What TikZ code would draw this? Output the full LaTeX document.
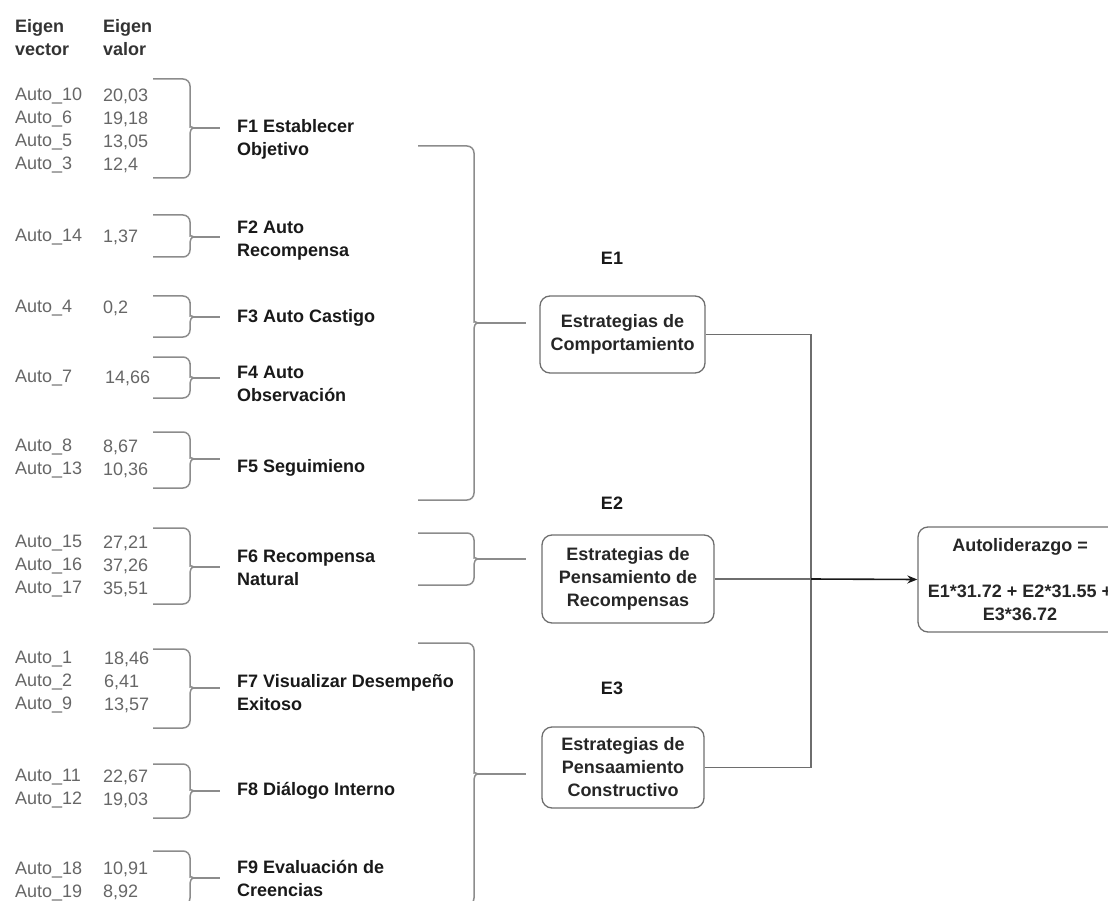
\documentclass[tikz,border=0pt]{standalone}
\usepackage{fontspec}
\setmainfont{Liberation Sans}
\usepackage{xcolor}
\usepackage{tikz}
\usetikzlibrary{arrows.meta}

\definecolor{bracegray}{HTML}{8C8C8C}
\definecolor{linegray}{HTML}{6E6E6E}
\definecolor{datagray}{HTML}{666666}

% curly bracket: tip name, left x, spine x, tip end x, top y, tip y, bottom y
\newcommand{\curlyb}[7]{%
  \draw[brace] (#2,#5) [rounded corners=7pt] -- (#3,#5) -- (#3,#6-8) [sharp corners]
    .. controls (#3,#6-3) and (#3+1,#6) .. (#3+4,#6)
    .. controls (#3+1,#6) and (#3,#6+3) .. (#3,#6+8)
    [rounded corners=7pt] -- (#3,#7) -- (#2,#7);
  \coordinate (#1) at (#4,#6);
  \draw[brace] (#3+4,#6) -- (#1);
}

\begin{document}
\begin{tikzpicture}[
  x=1pt, y=-1pt,
  txt/.style={font=\fontsize{18}{23}\selectfont, inner sep=0pt, align=left, anchor=west},
  hdr/.style={txt, font=\fontsize{18}{23}\selectfont\bfseries, text=black!80},
  dat/.style={txt, text=datagray},
  flab/.style={txt, font=\fontsize{18}{23}\selectfont\bfseries, text=black!90},
  elab/.style={font=\fontsize{18}{23}\selectfont\bfseries, inner sep=0pt, text=black!90},
  sbox/.style={draw=linegray, line width=1.3pt, rounded corners=10pt, align=center,
    font=\fontsize{18}{23}\selectfont\bfseries, text=black!85, inner sep=2pt},
  brace/.style={draw=bracegray, line width=1.5pt},
  link/.style={draw=linegray, line width=1.5pt},
  arrow/.style={-{Stealth[length=10pt,width=8pt]}, line width=1.6pt, black!90}
]
\useasboundingbox (0,0) rectangle (1108,901);
\clip (0,0) rectangle (1108,901);

\node[hdr] (hvec) at (15,38) {Eigen\\vector};
\node[hdr] (hval) at (103,38) {Eigen\\valor};

\node[dat] (v1) at (15,131) {Auto\_10\\Auto\_6\\Auto\_5\\Auto\_3};
\node[dat] (w1) at (103,131) {20,03\\19,18\\13,05\\12,4};
\node[dat] (v2) at (15,237) {Auto\_14};
\node[dat] (w2) at (103,237) {1,37};
\node[dat] (v3) at (15,308) {Auto\_4};
\node[dat] (w3) at (103,308) {0,2};
\node[dat] (v4) at (15,378) {Auto\_7};
\node[dat] (w4) at (105,378) {14,66};
\node[dat] (v5) at (15,459) {Auto\_8\\Auto\_13};
\node[dat] (w5) at (103,459) {8,67\\10,36};
\node[dat] (v6) at (15,566) {Auto\_15\\Auto\_16\\Auto\_17};
\node[dat] (w6) at (103,566) {27,21\\37,26\\35,51};
\node[dat] (v7) at (15,682) {Auto\_1\\Auto\_2\\Auto\_9};
\node[dat] (w7) at (104,682) {18,46\\6,41\\13,57};
\node[dat] (v8) at (15,789) {Auto\_11\\Auto\_12};
\node[dat] (w8) at (103,789) {22,67\\19,03};
\node[dat] (v9) at (15,881) {Auto\_18\\Auto\_19};
\node[dat] (w9) at (103,881) {10,91\\8,92};

\node[flab] (f1) at (237,139) {F1 Establecer\\Objetivo};
\node[flab] (f2) at (237,241) {F2 Auto\\Recompensa};
\node[flab] (f3) at (237,318) {F3 Auto Castigo};
\node[flab] (f4) at (237,384) {F4 Auto\\Observación};
\node[flab] (f5) at (237,468) {F5 Seguimieno};
\node[flab] (f6) at (237,568) {F6 Recompensa\\Natural};
\node[flab] (f7) at (237,693) {F7 Visualizar Desempeño\\Exitoso};
\node[flab] (f8) at (237,791) {F8 Diálogo Interno};
\node[flab] (f9) at (237,878) {F9 Evaluación de\\Creencias};

\curlyb{s1}{153}{190}{220}{79}{128}{178}
\curlyb{s2}{153}{190}{220}{215}{237}{257}
\curlyb{s3}{153}{190}{220}{296}{317}{337}
\curlyb{s4}{153}{190}{220}{357}{378}{398}
\curlyb{s5}{153}{190}{220}{432}{459}{488}
\curlyb{s6}{153}{190}{220}{528}{567}{604}
\curlyb{s7}{153}{190}{220}{649}{688}{728}
\curlyb{s8}{153}{190}{220}{764}{791}{818}
\curlyb{s9}{153}{190}{220}{851}{878}{905}

\curlyb{t1}{418}{474}{526}{146}{323}{500}
\curlyb{t2}{418}{474}{526}{533}{559}{585}
\curlyb{t3}{418}{474}{526}{643}{774}{905}

\node[elab] (l1) at (612,258) {E1};
\node[elab] (l2) at (612,503) {E2};
\node[elab] (l3) at (612,688) {E3};

\node[sbox, minimum width=165pt, minimum height=77pt] (e1) at (622.5,334.5) {Estrategias de\\Comportamiento};
\node[sbox, minimum width=172pt, minimum height=88pt] (e2) at (628,579) {Estrategias de\\Pensamiento de\\Recompensas};
\node[sbox, minimum width=162pt, minimum height=81pt] (e3) at (623,767.5) {Estrategias de\\Pensaamiento\\Constructivo};
\node[sbox, minimum width=204pt, minimum height=105pt] (res) at (1020,579.5) {Autoliderazgo =\\[23pt]E1*31.72 + E2*31.55 +\\E3*36.72};

\coordinate (join) at (811,579);
\draw[link] (e1.east) -| (join);
\draw[link] (e3.east) -| (join);
\draw[link] (e2.east) -- (join);
\draw[arrow] (join) -- (res.west);
\end{tikzpicture}
\end{document}
